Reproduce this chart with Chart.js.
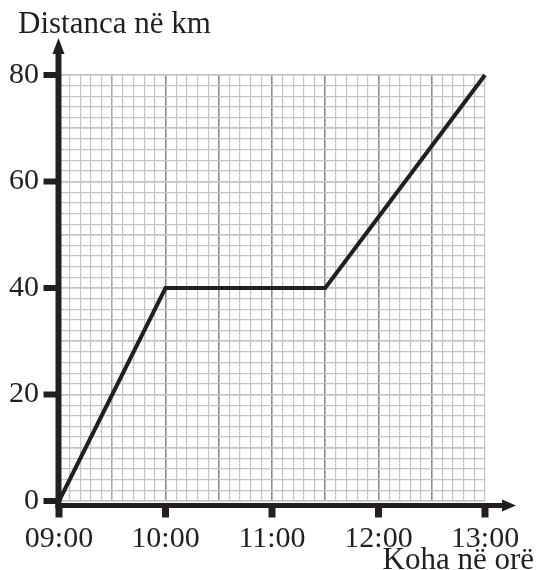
<!DOCTYPE html>
<html>
<head>
<meta charset="utf-8">
<script src="https://cdn.jsdelivr.net/npm/chart.js@4.4.4/dist/chart.umd.min.js"></script>
<style>
  html, body { margin: 0; padding: 0; background: #fff; }
  #wrap { width: 537px; height: 570px; position: relative; }
</style>
</head>
<body>
<div id="wrap"><canvas id="chart"></canvas></div>
<script>
// data
const times = ['09:00', '10:00', '11:30', '13:00']
const distances = [0, 40, 40, 80]
const hourLabels = ['09:00', '10:00', '11:00', '12:00', '13:00']
const distanceTicks = [0, 20, 40, 60, 80]
const yTitle = 'Distanca në km'
const xTitle = 'Koha në orë'

const ink = '#231f20'
const serif = "'Liberation Serif', 'Times New Roman', serif"

const toMinutes = (t) => {
    const [h, m] = t.split(':').map(Number)
    return (h - 9) * 60 + m
}
const hourMinutes = hourLabels.map(toMinutes)

const points = times.map((t, i) => ({ x: toMinutes(t), y: distances[i] }))

const axesPlugin = {
    id: 'axesPlugin',
    afterDraw(chart) {
        const { ctx, chartArea, scales: { x, y } } = chart
        const x0 = x.getPixelForValue(0)
        const y0 = y.getPixelForValue(0)
        const ax = x0 - 0.5
        const ay = y0 + 4.5
        ctx.save()
        ctx.fillStyle = ink
        ctx.strokeStyle = ink

        // vertical axis + arrow
        ctx.lineWidth = 6
        ctx.beginPath()
        ctx.moveTo(ax, ay + 3)
        ctx.lineTo(ax, chartArea.top - 22)
        ctx.stroke()
        ctx.beginPath()
        ctx.moveTo(ax, chartArea.top - 37)
        ctx.lineTo(ax - 6, chartArea.top - 21)
        ctx.lineTo(ax + 6, chartArea.top - 21)
        ctx.closePath()
        ctx.fill()

        // horizontal axis + arrow
        ctx.lineWidth = 5
        ctx.beginPath()
        ctx.moveTo(ax - 3, ay)
        ctx.lineTo(chartArea.right + 20, ay)
        ctx.stroke()
        ctx.beginPath()
        ctx.moveTo(chartArea.right + 31, ay)
        ctx.lineTo(chartArea.right + 17, ay - 6)
        ctx.lineTo(chartArea.right + 17, ay + 6)
        ctx.closePath()
        ctx.fill()

        // tick marks
        distanceTicks.forEach(v => {
            const py = y.getPixelForValue(v)
            ctx.fillRect(ax - 15, py - 3, 15, 6)
        })
        hourMinutes.forEach(v => {
            const px = x.getPixelForValue(v)
            ctx.fillRect(px - 3.5, ay, 7, 12)
        })

        // axis titles
        ctx.font = '31px ' + serif
        ctx.textBaseline = 'alphabetic'
        ctx.textAlign = 'left'
        ctx.fillText(yTitle, 18, 33)
        ctx.textAlign = 'right'
        ctx.fillText(xTitle, 534, 569)
        ctx.restore()
    }
}

const xGridColor = (c) => {
    const v = c.tick.value
    if (v === 0 || v === 240) return '#c4c4c4'
    if (v === 30) return '#a9a9a9'
    return v % 30 === 0 ? '#8c8c8c' : '#c4c4c4'
}

const noPad = (s) => {
    s.paddingLeft = 0
    s.paddingRight = 0
    s.paddingTop = 0
    s.paddingBottom = 0
}

new Chart(document.getElementById('chart'), {
    type: 'line',
    data: {
        datasets: [{
            data: points,
            borderColor: ink,
            borderWidth: 4,
            pointRadius: 0,
            tension: 0,
            clip: false
        }]
    },
    options: {
        responsive: true,
        maintainAspectRatio: false,
        animation: false,
        layout: { padding: { top: 75, right: 52, left: 0, bottom: 0 } },
        plugins: { legend: { display: false }, tooltip: { enabled: false } },
        scales: {
            x: {
                type: 'linear',
                min: 0,
                max: 240,
                border: { display: false },
                afterFit: (s) => { s.height = 69; noPad(s) },
                grid: {
                    drawTicks: false,
                    color: xGridColor,
                    lineWidth: (c) => (c.tick.value % 30 === 0 && c.tick.value !== 240 ? 1.6 : 1.2)
                },
                ticks: {
                    stepSize: 6,
                    autoSkip: false,
                    maxRotation: 0,
                    padding: 20,
                    color: ink,
                    font: { family: serif, size: 30 },
                    callback: (v) => {
                        const i = hourMinutes.indexOf(v)
                        return i >= 0 ? hourLabels[i] : ''
                    }
                }
            },
            y: {
                min: 0,
                max: 80,
                border: { display: false },
                afterFit: (s) => { s.width = 59; noPad(s) },
                grid: {
                    drawTicks: false,
                    color: '#c4c4c4',
                    lineWidth: (c) => (c.tick.value % 10 === 0 ? 1.8 : 1.2)
                },
                ticks: {
                    stepSize: 2,
                    autoSkip: false,
                    padding: 20,
                    color: ink,
                    font: { family: serif, size: 30 },
                    callback: (v) => (distanceTicks.includes(v) ? String(v) : '')
                }
            }
        }
    },
    plugins: [axesPlugin]
})
</script>
</body>
</html>
